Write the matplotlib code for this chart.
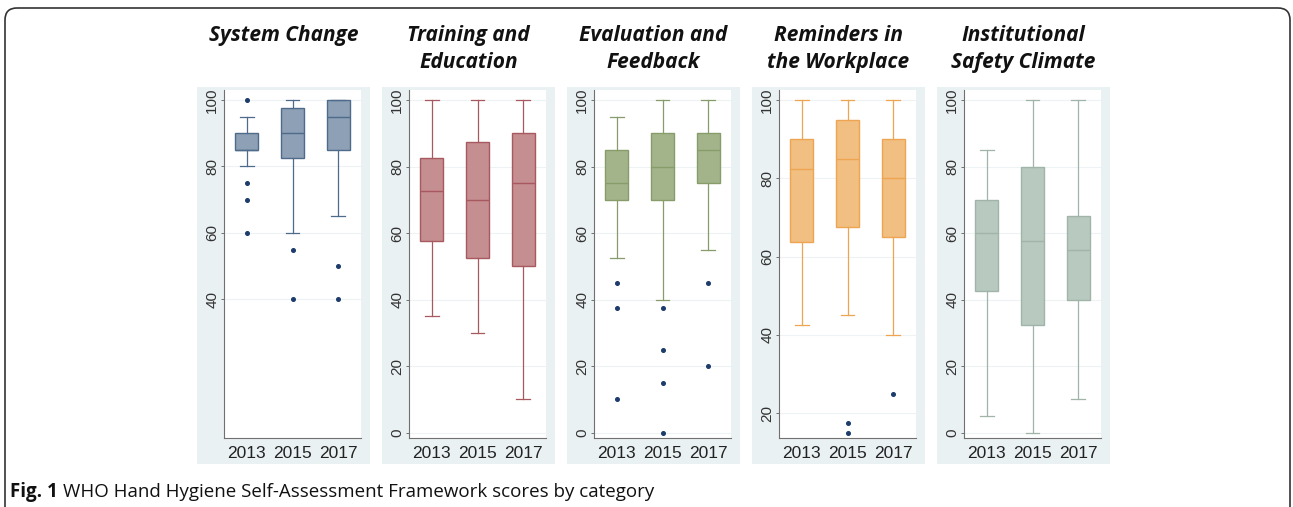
import matplotlib.pyplot as plt
from matplotlib.patches import Rectangle, FancyBboxPatch

W, H = 1293, 507

years = ['2013', '2015', '2017']
titles = ['System Change', 'Training and\nEducation', 'Evaluation and\nFeedback',
          'Reminders in\nthe Workplace', 'Institutional\nSafety Climate']

# whislo, q1, median, q3, whishi  (one row per year)
system_change = [[80, 85, 85, 90, 95], [60, 82.5, 90, 97.5, 100], [65, 85, 95, 100, 100]]
system_change_out = [[100, 75, 70, 60], [55, 40], [50, 40]]

training = [[35, 57.5, 72.5, 82.5, 100], [30, 52.5, 70, 87.5, 100], [10, 50, 75, 90, 100]]
training_out = [[], [], []]

evaluation = [[52.5, 70, 75, 85, 95], [40, 70, 80, 90, 100], [55, 75, 85, 90, 100]]
evaluation_out = [[45, 37.5, 10], [37.5, 25, 15, 0], [45, 20]]

reminders = [[42.5, 63.75, 82.5, 90, 100], [45, 67.5, 85, 95, 100], [40, 65, 80, 90, 100]]
reminders_out = [[], [17.5, 15], [25]]

safety = [[5, 42.5, 60, 70, 85], [0, 32.5, 57.5, 80, 100], [10, 40, 55, 65, 100]]
safety_out = [[], [], []]

panel_stats = [system_change, training, evaluation, reminders, safety]
panel_out = [system_change_out, training_out, evaluation_out, reminders_out, safety_out]
panel_ticks = [[40, 60, 80, 100], [0, 20, 40, 60, 80, 100], [0, 20, 40, 60, 80, 100],
               [20, 40, 60, 80, 100], [0, 20, 40, 60, 80, 100]]
panel_ylim = [(-1.7, 103), (-1.6, 103), (-1.6, 103), (13.7, 102.55), (-1.6, 103)]

fills = ['#8da0b5', '#c58e91', '#a3b48b', '#f2bf82', '#b8c9c0']
edges = ['#4f6b8b', '#a8595f', '#879c69', '#eea552', '#a0b4aa']
dot = '#1d3c6c'
bg = '#eaf1f3'

fig = plt.figure(figsize=(W / 100, H / 100), dpi=100)

# overlay axes in pixel units for frame, panel backgrounds and text
base = fig.add_axes([0, 0, 1, 1], zorder=0)
base.set_xlim(0, W)
base.set_ylim(H, 0)
base.axis('off')

base.add_patch(FancyBboxPatch((5, 8), 1285, 540, boxstyle='round,pad=0,rounding_size=12',
                              fill=False, ec='#333333', lw=1.2))

for i in range(5):
    x0 = 197 + 185 * i
    base.add_patch(Rectangle((x0, 87), 173, 377, fc=bg, ec='none'))
    for k, line in enumerate(titles[i].split('\n')):
        base.text(x0 + 86.5, 41 + 27 * k, line, ha='center', va='baseline',
                  fontfamily='Open Sans', fontweight='bold', fontstyle='italic',
                  fontsize=15, color='#111111')

    ax = fig.add_axes([(224 + 185 * i) / W, (H - 438) / H, 137 / W, 348 / H], zorder=1)
    stats = []
    for row, out in zip(panel_stats[i], panel_out[i]):
        stats.append(dict(whislo=row[0], q1=row[1], med=row[2], q3=row[3],
                          whishi=row[4], fliers=out))
    ec = edges[i]
    ax.bxp(stats, positions=[1, 2, 3], widths=0.5, capwidths=0.3, patch_artist=True,
           boxprops=dict(facecolor=fills[i], edgecolor=ec, linewidth=1.0),
           medianprops=dict(color=ec, linewidth=1.0),
           whiskerprops=dict(color=ec, linewidth=0.9),
           capprops=dict(color=ec, linewidth=0.9),
           flierprops=dict(marker='o', markerfacecolor=dot, markeredgecolor=dot,
                           markersize=2.6))
    ax.set_xlim(0.5, 3.5)
    ax.set_ylim(*panel_ylim[i])
    ax.set_yticks(panel_ticks[i])
    ax.set_xticks([1, 2, 3])
    ax.set_xticklabels(years)
    ax.yaxis.grid(True, color='#edf2f4', lw=0.8)
    ax.set_axisbelow(True)
    for s in ['top', 'right']:
        ax.spines[s].set_visible(False)
    for s in ['left', 'bottom']:
        ax.spines[s].set_color('#707070')
        ax.spines[s].set_linewidth(0.8)
    ax.tick_params(axis='y', length=2.5, width=0.7, color='#707070', pad=1,
                   labelsize=11, labelrotation=90, labelcolor='#333333')
    ax.tick_params(axis='x', length=0, pad=6, labelsize=12.5, labelcolor='#222222')
    for lab in ax.get_yticklabels():
        lab.set_fontfamily('Liberation Sans')
        lab.set_va('center')
    for lab in ax.get_xticklabels():
        lab.set_fontfamily('Liberation Sans')

# caption: bold lead-in, then regular text
fig.canvas.draw()
r = fig.canvas.get_renderer()
t1 = base.text(10, 497, 'Fig. 1', ha='left', va='baseline', fontfamily='Open Sans',
               fontweight='bold', fontsize=13.5, color='#111111')
bb = t1.get_window_extent(renderer=r)
base.text(bb.x1 + 5, 497, 'WHO Hand Hygiene Self-Assessment Framework scores by category',
          ha='left', va='baseline', fontfamily='Open Sans', fontsize=13.5, color='#111111')

fig.savefig('out.png', dpi=100)
